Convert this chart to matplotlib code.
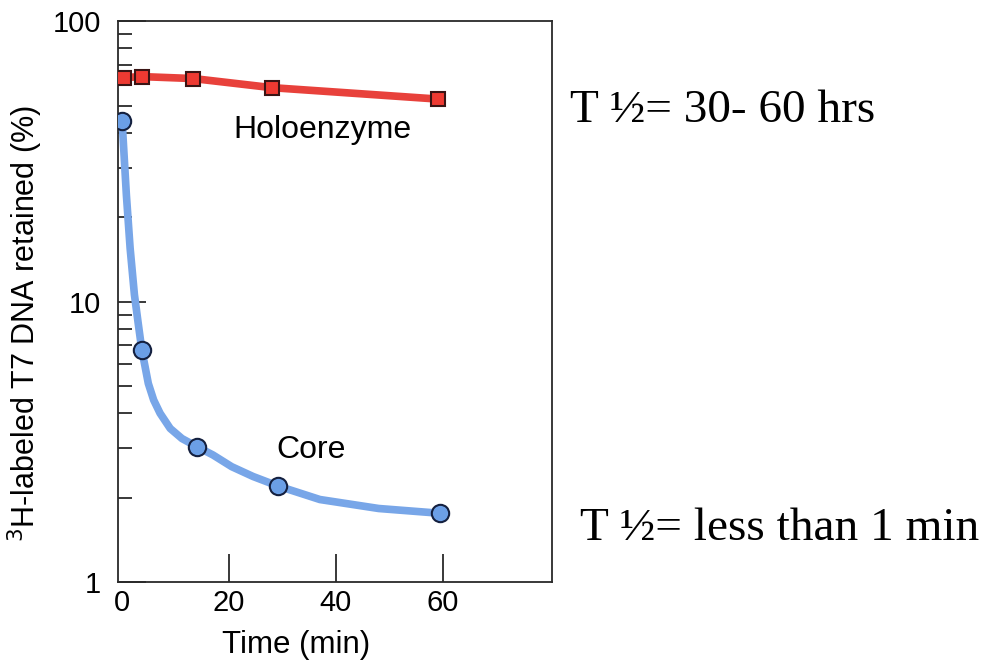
import matplotlib
matplotlib.use("Agg")
import matplotlib.pyplot as plt
from matplotlib.ticker import LogLocator, NullFormatter, FixedLocator, FuncFormatter

# values
holo_t = [0.3, 3.7, 13.3, 28.0, 59.1]
holo_pct = [63.0, 63.5, 62.5, 58.0, 52.8]

core_t = [0.0, 3.7, 14.0, 29.2, 59.4]
core_pct = [44.0, 6.7, 3.03, 2.2, 1.76]

# fitted curve
core_fit_t = [0.0, 0.8, 1.5, 2.3, 3.0, 3.7, 4.3, 4.9, 5.9, 7.1, 9.0, 11.2,
              14.0, 17.0, 20.5, 24.5, 29.2, 37.0, 48.0, 59.4]
core_fit_pct = [44.0, 24.0, 15.5, 10.6, 8.4, 6.7, 5.86, 5.11, 4.46, 4.0, 3.53, 3.25,
                3.04, 2.84, 2.58, 2.38, 2.2, 1.97, 1.83, 1.76]

x_ticks = [0, 20, 40, 60]
y_ticks = [1, 10, 100]

fig = plt.figure(figsize=(9.82, 6.66), dpi=100)
ax = fig.add_axes([0.120, 0.126, 0.442, 0.842])

red = "#e8413b"
blue = "#78a6e8"

ax.plot(holo_t, holo_pct, color=red, lw=5.5, solid_capstyle="butt", zorder=2)
ax.plot(holo_t, holo_pct, ls="none", marker="s", ms=9.5, mfc="#ee3a32",
        mec="#3a1414", mew=1.5, zorder=3)

ax.plot(core_fit_t, core_fit_pct, color=blue, lw=5.5, solid_capstyle="round",
        solid_joinstyle="round", zorder=2)
ax.plot(core_t, core_pct, ls="none", marker="o", ms=12.5, mfc="#6b9fe6",
        mec="#14203f", mew=1.5, zorder=3)

ax.set_yscale("log")
ax.set_ylim(1, 100)
ax.set_xlim(-0.8, 80.4)

ax.xaxis.set_major_locator(FixedLocator(x_ticks))
ax.yaxis.set_major_locator(FixedLocator(y_ticks))
ax.yaxis.set_major_formatter(FuncFormatter(lambda v, p: f"{v:g}"))
ax.yaxis.set_minor_locator(LogLocator(base=10, subs=range(2, 10)))
ax.yaxis.set_minor_formatter(NullFormatter())

for s in ax.spines.values():
    s.set_linewidth(1.3)
    s.set_color("#2a2a2a")

ax.tick_params(axis="both", which="major", direction="in", length=20, width=1.3,
               color="#2a2a2a", labelsize=21, pad=5)
ax.tick_params(axis="y", which="minor", direction="in", length=10, width=1.3,
               color="#2a2a2a")
ax.tick_params(axis="y", which="major", pad=12)
ax.xaxis.get_major_ticks()[0].tick1line.set_visible(False)

for lab in ax.get_xticklabels() + ax.get_yticklabels():
    lab.set_fontfamily("Liberation Sans")

ax.set_xlabel("Time (min)", fontsize=22.5, family="Liberation Sans")
ax.xaxis.set_label_coords(0.41, -0.085)
ax.set_ylabel("$^{3}$H-labeled T7 DNA retained (%)", fontsize=22,
              family="Liberation Sans")
ax.yaxis.set_label_coords(-0.168, 0.462)

ax.text(37.5, 41, "Holoenzyme", fontsize=23, family="Liberation Sans",
        ha="center", va="center")
ax.text(35.4, 2.95, "Core", fontsize=23, family="Liberation Sans",
        ha="center", va="center")

fig.text(570 / 982, 1 - 122 / 666, "T \u00bd= 30- 60 hrs", fontsize=34,
         family="Liberation Serif", ha="left", va="baseline")
fig.text(580 / 982, 1 - 540 / 666, "T \u00bd= less than 1 min", fontsize=34,
         family="Liberation Serif", ha="left", va="baseline")

fig.savefig("out.png", dpi=100)
